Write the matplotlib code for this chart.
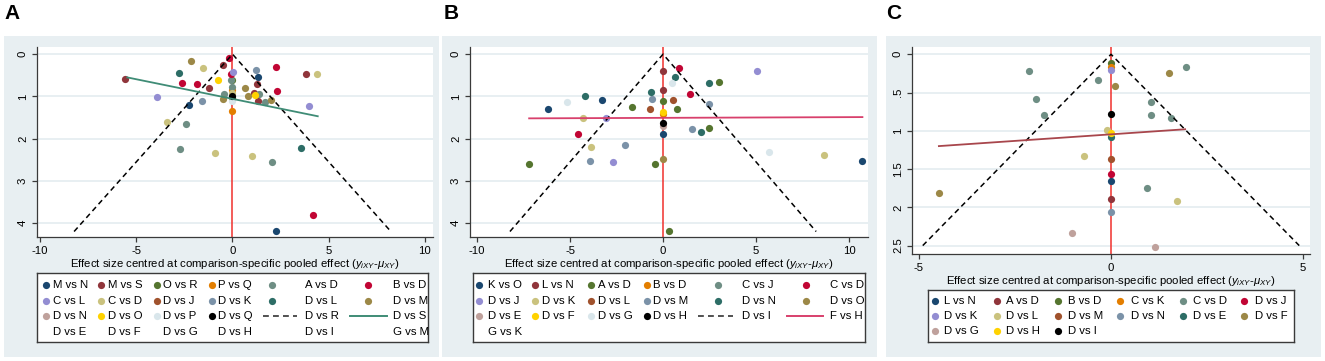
import matplotlib
matplotlib.use('Agg')
import matplotlib.pyplot as plt
from matplotlib.patches import Rectangle

plt.rcParams['font.family'] = ['Liberation Sans', 'DejaVu Sans']
plt.rcParams['mathtext.fontset'] = 'custom'
plt.rcParams['mathtext.rm'] = 'Liberation Sans'
plt.rcParams['mathtext.it'] = 'Liberation Sans:italic'
plt.rcParams['axes.unicode_minus'] = False

# ---------------- data ----------------
# Panel A
a_labels = ['M vs N', 'M vs S', 'O vs R', 'P vs Q', 'A vs D', 'B vs D', 'C vs L', 'C vs D',
            'D vs J', 'D vs K', 'D vs L', 'D vs M', 'D vs N', 'D vs O', 'D vs P', 'D vs Q']
a_x = [
    [1.34, -2.24, 2.24],
    [-5.59, -0.50, -1.23, 1.28, 3.80, 1.11, 1.32],
    [0.0, 0.0],
    [0.0, 0.0],
    [-0.09, 1.37, 1.68, -0.43, -2.40, -2.71, 2.05, 0.0],
    [-0.16, -0.09, -2.64, -1.86, 2.24, 2.29, 4.20],
    [0.03, -3.91, 3.96],
    [-1.51, 4.41, -3.42, -0.92, 1.01, -0.05],
    [],
    [1.23, -1.61],
    [-2.80, 3.54],
    [-2.17, 0.63, 0.82, -0.50, 2.00],
    [],
    [-0.76, 1.18],
    [0.0],
    [0.0],
]
a_se = [
    [0.54, 1.21, 4.18],
    [0.58, 0.26, 0.79, 0.70, 0.46, 0.92, 1.11],
    [0.60, 1.03],
    [0.85, 1.34],
    [0.62, 0.95, 1.14, 0.94, 1.65, 2.24, 2.55, 0.77],
    [0.08, 0.47, 0.68, 0.70, 0.30, 0.88, 3.80],
    [0.43, 1.02, 1.23],
    [0.33, 0.47, 1.60, 2.34, 2.42, 0.92],
    [],
    [0.38, 1.11],
    [0.45, 2.22],
    [0.17, 0.80, 0.98, 1.05, 1.09],
    [],
    [0.60, 0.97],
    [1.12],
    [0.99],
]
a_line_labels = ['D vs R', 'D vs S']
a_extra_labels = ['D vs E', 'D vs F', 'D vs G', 'D vs H', 'D vs I', 'G vs M']
a_funnel_se = 4.2
a_reg_x = [-5.47, 4.43]
a_reg_se = [0.55, 1.47]
a_xticks = [-10, -5, 0, 5, 10]
a_yticks = [0, 1, 2, 3, 4]
a_yticklabels = ['0', '1', '2', '3', '4']

# Panel B
b_labels = ['K vs O', 'L vs N', 'A vs D', 'B vs D', 'C vs J', 'C vs D', 'D vs J', 'D vs K',
            'D vs L', 'D vs M', 'D vs N', 'D vs O', 'D vs E', 'D vs F', 'D vs G', 'D vs H']
b_x = [
    [-6.16, -3.26, 0.0, 10.72],
    [0.0, 0.0],
    [3.03, 0.0, -1.65, 0.75, 2.45, -7.20, -0.45, 0.34],
    [0.0],
    [],
    [0.85, 1.43, -4.57],
    [5.07, -3.06, -2.67],
    [-4.32, -3.89, 8.66],
    [0.53, -0.71],
    [-0.57, 2.47, 1.58, -2.04, -3.94],
    [0.65, 2.49, -0.66, -4.18, 2.05],
    [0.0],
    [0.0],
    [0.0],
    [0.47, -5.14, 5.72],
    [0.0],
]
b_se = [
    [1.30, 1.09, 1.90, 2.53],
    [0.39, 0.85],
    [0.66, 1.12, 1.24, 1.30, 1.75, 2.59, 2.61, 4.19],
    [1.42],
    [],
    [0.32, 0.94, 1.90],
    [0.39, 1.52, 2.55],
    [1.52, 2.21, 2.39],
    [1.09, 1.29],
    [1.07, 1.18, 1.78, 2.16, 2.53],
    [0.55, 0.69, 0.89, 1.00, 1.85],
    [2.48],
    [1.71],
    [1.37],
    [0.68, 1.13, 2.31],
    [1.64],
]
b_line_labels = ['D vs I', 'F vs H']
b_extra_labels = ['G vs K']
b_funnel_se = 4.2
b_reg_x = [-7.2, 10.72]
b_reg_se = [1.52, 1.49]
b_xticks = [-10, -5, 0, 5, 10]
b_yticks = [0, 1, 2, 3, 4]
b_yticklabels = ['0', '1', '2', '3', '4']

# Panel C
c_labels = ['L vs N', 'A vs D', 'B vs D', 'C vs K', 'C vs D', 'D vs J', 'D vs K', 'D vs L',
            'D vs M', 'D vs N', 'D vs E', 'D vs F', 'D vs G', 'D vs H', 'D vs I']
c_x = [
    [0.0], [0.0], [0.0], [0.0],
    [-2.14, -0.33, 1.94, -1.95, -1.75, 1.04, 1.04, 1.55, 0.95],
    [0.0],
    [0.0],
    [-0.10, -0.69, 1.73],
    [0.0],
    [0.0],
    [0.0],
    [0.10, 1.52, -4.48],
    [-1.01, 1.15],
    [0.0],
    [0.0],
]
c_se = [
    [1.65], [1.89], [0.11], [0.17],
    [0.22, 0.33, 0.16, 0.58, 0.80, 0.63, 0.79, 0.83, 1.75],
    [1.57],
    [0.20],
    [0.99, 1.33, 1.92],
    [1.37],
    [2.06],
    [1.08],
    [0.42, 0.24, 1.81],
    [2.34, 2.52],
    [1.03],
    [0.78],
]
c_funnel_se = 2.5
c_reg_x = [-4.48, 1.93]
c_reg_se = [1.20, 0.98]
c_xticks = [-5, 0, 5]
c_yticks = [0, 0.5, 1, 1.5, 2, 2.5]
c_yticklabels = ['0', '.5', '1', '1.5', '2', '2.5']

xlabel_text = r'Effect size centred at comparison-specific pooled effect ($y_{iXY}$-$\mu_{XY}$)'

# ---------------- styles ----------------
navy = '#1a476f'; maroon = '#90353b'; forest = '#55752f'; dkorange = '#e37e00'
teal = '#6e8e84'; cranberry = '#c10534'; lavender = '#938dd2'; khaki = '#cac27e'
sienna = '#a0522d'; emidblue = '#7b92a8'; emerald = '#2d6d66'; brown = '#9c8847'
erose = '#bfa19c'; gold = '#ffd200'; bluishgray = '#d9e6eb'; black = '#000000'
pal16 = [navy, maroon, forest, dkorange, teal, cranberry, lavender, khaki, sienna,
         emidblue, emerald, brown, erose, gold, bluishgray, black]
pal_c = [navy, maroon, forest, dkorange, teal, cranberry, lavender, khaki, sienna,
         emidblue, emerald, brown, erose, gold, black]

BG = '#e8eff2'
AXC = '#3a3a3a'
FS = 8.2
MS = 27

W, H = 1325, 361
fig = plt.figure(figsize=(W / 100, H / 100), dpi=100)
fig.patch.set_facecolor('white')


def px_rect(l, t, r, b):
    return [l / W, 1 - b / H, (r - l) / W, (b - t) / H]


def add_bg(l, t, r, b):
    fig.patches.append(Rectangle((l / W, 1 - b / H), (r - l) / W, (b - t) / H,
                                 transform=fig.transFigure, facecolor=BG,
                                 edgecolor='none', zorder=-10))


def funnel(ax, labels, xs, ses, colors, fse, regx, regy, regcol, xt, yt, ytl,
           xlim, ylim):
    ax.set_facecolor('white')
    for yv in yt:
        ax.axhline(yv, color='#e6eef1', lw=1.3, zorder=0)
    ax.axvline(0, color='#f0302c', lw=1.1, zorder=1)
    for lab, x, s, c in zip(labels, xs, ses, colors):
        ax.scatter(x, s, s=MS, color=c, linewidths=0, zorder=3, label=lab)
    zf = 1.96 * fse
    ax.plot([-zf, 0, zf], [fse, 0, fse], color='black', lw=1.1,
            dashes=(3.5, 2.5), zorder=4)
    ax.plot(regx, regy, color=regcol, lw=1.3, zorder=5)
    ax.set_xlim(*xlim)
    ax.set_ylim(*ylim)
    ax.set_xticks(xt)
    ax.set_xticklabels([str(v) for v in xt])
    ax.set_yticks(yt)
    ax.set_yticklabels(ytl, rotation=90, va='center')
    for sp in ['top', 'right']:
        ax.spines[sp].set_visible(False)
    for sp in ['left', 'bottom']:
        ax.spines[sp].set_color(AXC)
        ax.spines[sp].set_linewidth(0.9)
    ax.tick_params(axis='both', length=3.5, width=0.9, color=AXC, labelsize=FS,
                   pad=3.0)
    ax.set_xlabel(xlabel_text, fontsize=FS, labelpad=1.0)


def legend_box(box, rows, mx, tx, ry, keycols):
    l, t, r, b = box
    lax = fig.add_axes(px_rect(l, t, r, b))
    lax.set_xlim(l, r)
    lax.set_ylim(b, t)
    lax.set_xticks([])
    lax.set_yticks([])
    for sp in lax.spines.values():
        sp.set_color(AXC)
        sp.set_linewidth(1.0)
    for i, row in enumerate(rows):
        for j, item in enumerate(row):
            lab, kind, col = item
            y = ry[i]
            if kind == 'marker':
                lax.scatter([mx[j]], [y], s=MS, color=col, linewidths=0,
                            clip_on=False)
            elif kind == 'dash':
                x0, x1 = keycols[j]
                lax.plot([x0, x1], [y, y], color='#333333', lw=1.2,
                         dashes=(3.5, 2.5))
            elif kind == 'line':
                x0, x1 = keycols[j]
                lax.plot([x0, x1], [y, y], color=col, lw=1.4)
            lax.text(tx[j], y, lab, fontsize=FS, ha='left', va='center')


def chunk(items, n):
    return [items[i:i + n] for i in range(0, len(items), n)]


# backgrounds
add_bg(4, 36, 439, 357)
add_bg(442, 36, 877, 357)
add_bg(886, 36, 1321, 357)

fig.text(4 / W, 1 - 4 / H, 'A', fontsize=15, fontweight='bold', va='top', ha='left')
fig.text(444 / W, 1 - 4 / H, 'B', fontsize=15, fontweight='bold', va='top', ha='left')
fig.text(886 / W, 1 - 4 / H, 'C', fontsize=15, fontweight='bold', va='top', ha='left')

# Panel A
a_col = '#3f8c76'
axA = fig.add_axes(px_rect(37, 47, 433, 237))
funnel(axA, a_labels, a_x, a_se, pal16, a_funnel_se, a_reg_x, a_reg_se, a_col,
       a_xticks, a_yticks, a_yticklabels, (-10.16, 10.42), (4.33, -0.17))
itemsA = [(lab, 'marker', c) for lab, c in zip(a_labels, pal16)]
itemsA += [(a_line_labels[0], 'dash', 'black'), (a_line_labels[1], 'line', a_col)]
itemsA += [(lab, 'none', None) for lab in a_extra_labels]
legend_box((37, 273, 428, 342), chunk(itemsA, 6),
           [46, 101, 157, 212, 272, 368], [52.5, 107.5, 162.5, 217.5, 305, 393],
           [285, 300.7, 316.3, 332], {4: (263, 297), 5: (350, 387)})

# Panel B
b_col = '#d8406c'
axB = fig.add_axes(px_rect(470, 47, 868, 237))
funnel(axB, b_labels, b_x, b_se, pal16, b_funnel_se, b_reg_x, b_reg_se, b_col,
       b_xticks, b_yticks, b_yticklabels, (-10.38, 11.02), (4.33, -0.17))
itemsB = [(lab, 'marker', c) for lab, c in zip(b_labels, pal16)]
itemsB += [(b_line_labels[0], 'dash', 'black'), (b_line_labels[1], 'line', b_col)]
itemsB += [(lab, 'none', None) for lab in b_extra_labels]
legend_box((473, 273, 865, 342), chunk(itemsB, 6),
           [479.3, 535, 590.7, 646.7, 718.3, 806], [488, 542.5, 598, 653, 741.7, 830],
           [285, 300.7, 316.3, 332], {4: (698, 733), 5: (787, 823)})

# Panel C
c_col = '#a8464c'
axC = fig.add_axes(px_rect(912, 47, 1310, 254))
funnel(axC, c_labels, c_x, c_se, pal_c, c_funnel_se, c_reg_x, c_reg_se, c_col,
       c_xticks, c_yticks, c_yticklabels, (-5.18, 5.18), (2.61, -0.095))
itemsC = [(lab, 'marker', c) for lab, c in zip(c_labels, pal_c)]
legend_box((928, 290, 1294, 342), chunk(itemsC, 6),
           [935, 996.7, 1058.3, 1120, 1182.7, 1244.3],
           [944, 1006.5, 1068, 1131, 1193, 1255],
           [301, 316, 331], {})

fig.savefig('out.png', dpi=100, facecolor='white')
